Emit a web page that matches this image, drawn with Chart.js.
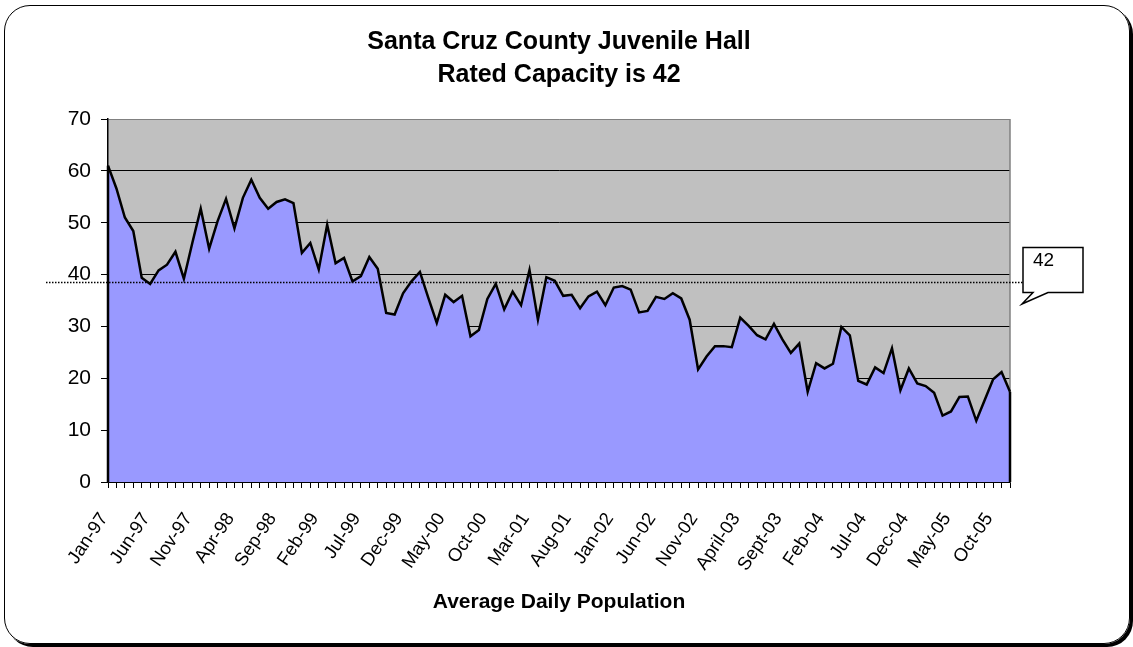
<!DOCTYPE html>
<html>
<head>
<meta charset="utf-8">
<title>Santa Cruz County Juvenile Hall</title>
<script src="https://cdn.jsdelivr.net/npm/chart.js@4.4.1/dist/chart.umd.min.js"></script>
<style>
  html, body { margin: 0; padding: 0; background: #fff; }
  #wrap { position: relative; width: 1133px; height: 647px; overflow: hidden; }
  #frame {
    position: absolute; left: 4px; top: 5px; width: 1124px; height: 637px;
    border: 1px solid #000; border-radius: 26px; box-shadow: 3px 3px 0 #000;
  }
  #juvenileChart { position: absolute; left: 0; top: 0; }
</style>
</head>
<body>
<div id="wrap">
  <div id="frame"></div>
  <canvas id="juvenileChart" width="1133" height="647"></canvas>
</div>
<script>
/**
 * Variable
 */
const FONT = "'Liberation Sans', Arial, sans-serif";
const TITLE_LINES = ['Santa Cruz County Juvenile Hall', 'Rated Capacity is 42'];
const X_TITLE = 'Average Daily Population';
const LABEL_STEP = 5;

// one label per month, Jan-97 .. Dec-05
const months = [
    'Jan-97', 'Feb-97', 'Mar-97', 'Apr-97', 'May-97', 'Jun-97', 'Jul-97', 'Aug-97', 'Sep-97', 'Oct-97', 'Nov-97', 'Dec-97',
    'Jan-98', 'Feb-98', 'Mar-98', 'Apr-98', 'May-98', 'Jun-98', 'Jul-98', 'Aug-98', 'Sep-98', 'Oct-98', 'Nov-98', 'Dec-98',
    'Jan-99', 'Feb-99', 'Mar-99', 'Apr-99', 'May-99', 'Jun-99', 'Jul-99', 'Aug-99', 'Sep-99', 'Oct-99', 'Nov-99', 'Dec-99',
    'Jan-00', 'Feb-00', 'Mar-00', 'Apr-00', 'May-00', 'Jun-00', 'Jul-00', 'Aug-00', 'Sep-00', 'Oct-00', 'Nov-00', 'Dec-00',
    'Jan-01', 'Feb-01', 'Mar-01', 'Apr-01', 'May-01', 'Jun-01', 'Jul-01', 'Aug-01', 'Sep-01', 'Oct-01', 'Nov-01', 'Dec-01',
    'Jan-02', 'Feb-02', 'Mar-02', 'Apr-02', 'May-02', 'Jun-02', 'Jul-02', 'Aug-02', 'Sep-02', 'Oct-02', 'Nov-02', 'Dec-02',
    'Jan-03', 'Feb-03', 'Mar-03', 'April-03', 'May-03', 'Jun-03', 'Jul-03', 'Aug-03', 'Sept-03', 'Oct-03', 'Nov-03', 'Dec-03',
    'Jan-04', 'Feb-04', 'Mar-04', 'Apr-04', 'May-04', 'Jun-04', 'Jul-04', 'Aug-04', 'Sep-04', 'Oct-04', 'Nov-04', 'Dec-04',
    'Jan-05', 'Feb-05', 'Mar-05', 'Apr-05', 'May-05', 'Jun-05', 'Jul-05', 'Aug-05', 'Sep-05', 'Oct-05', 'Nov-05', 'Dec-05',
];

// average daily population
const population = [
    61.0, 56.6, 51.0, 48.4, 39.4, 38.2, 40.8, 41.9, 44.4, 39.2, 46.1, 52.7,
    45.0, 50.3, 54.6, 48.9, 54.8, 58.3, 54.8, 52.7, 54.0, 54.5, 53.8, 44.2,
    46.1, 41.0, 49.6, 42.2, 43.2, 38.7, 39.7, 43.4, 41.1, 32.6, 32.3, 36.4,
    38.7, 40.5, 35.5, 30.7, 36.1, 34.7, 35.9, 28.1, 29.3, 35.3, 38.2, 33.3,
    36.7, 34.1, 40.9, 31.3, 39.5, 38.8, 35.9, 36.1, 33.5, 35.8, 36.7, 34.1,
    37.5, 37.8, 37.1, 32.7, 33.0, 35.7, 35.3, 36.4, 35.4, 31.3, 21.7, 24.2,
    26.2, 26.2, 26.0, 31.7, 30.1, 28.3, 27.5, 30.5, 27.5, 24.9, 26.7, 17.4,
    22.9, 21.9, 22.8, 29.9, 28.3, 19.5, 18.8, 22.1, 21.0, 25.8, 17.7, 21.9,
    19.0, 18.5, 17.2, 12.8, 13.6, 16.4, 16.5, 11.8, 15.8, 19.8, 21.2, 17.4,
];

// y axis
const Y_MIN = 0;
const Y_MAX = 70;
const Y_STEP = 10;

// the dotted marker line and its callout
const MARK_VALUE = 38.6;
const MARK_TEXT = '42';

const PLOT_BG = '#c0c0c0';
const AREA_COLOR = '#9999ff';

//////////////////////////////////////////////////////////////////

/**
 * Grey plot area, its border, the area's closing edges, marker line + callout
 */
const plotDecor = {
    id: 'plotDecor',
    beforeDraw(chart) {
        const {ctx, chartArea: a} = chart;
        ctx.save();
        ctx.fillStyle = PLOT_BG;
        ctx.fillRect(a.left, a.top, a.right - a.left, a.bottom - a.top);
        ctx.restore();
    },
    beforeDatasetsDraw(chart) {
        const {ctx, chartArea: a} = chart;
        ctx.save();
        ctx.strokeStyle = '#808080';
        ctx.lineWidth = 1.5;
        ctx.beginPath();
        ctx.moveTo(a.right, a.top);
        ctx.lineTo(a.right, a.bottom);
        ctx.stroke();
        ctx.restore();
    },
    afterDatasetsDraw(chart) {
        const {ctx, chartArea: a} = chart;
        const yScale = chart.scales.y;
        const pts = chart.getDatasetMeta(0).data;
        const base = yScale.getPixelForValue(0);

        // Excel outlines the whole area, so close both sides
        ctx.save();
        ctx.strokeStyle = '#000';
        ctx.lineWidth = 2.5;
        ctx.beginPath();
        ctx.moveTo(pts[0].x, pts[0].y);
        ctx.lineTo(pts[0].x, base);
        ctx.moveTo(pts[pts.length - 1].x, pts[pts.length - 1].y);
        ctx.lineTo(pts[pts.length - 1].x, base);
        ctx.stroke();

        // dotted marker line
        const my = Math.round(yScale.getPixelForValue(MARK_VALUE)) + 0.5;
        ctx.lineWidth = 1.3;
        ctx.setLineDash([1.5, 1.5]);
        ctx.beginPath();
        ctx.moveTo(a.left - 62, my);
        ctx.lineTo(a.right + 13, my);
        ctx.stroke();
        ctx.setLineDash([]);

        // callout box with its tail
        const bx = a.right + 13;
        const bw = 60;
        const top = my - 35;
        const bottom = my + 10;
        ctx.fillStyle = '#fff';
        ctx.lineWidth = 1.5;
        ctx.beginPath();
        ctx.moveTo(bx, top);
        ctx.lineTo(bx + bw, top);
        ctx.lineTo(bx + bw, bottom);
        ctx.lineTo(bx + 25, bottom);
        ctx.lineTo(bx - 1, my + 21.5);
        ctx.lineTo(bx + 10, bottom);
        ctx.lineTo(bx, bottom);
        ctx.closePath();
        ctx.fill();
        ctx.stroke();

        ctx.fillStyle = '#000';
        ctx.font = '19px ' + FONT;
        ctx.textAlign = 'left';
        ctx.textBaseline = 'middle';
        ctx.fillText(MARK_TEXT, bx + 10, top + 13);
        ctx.restore();
    }
};

/**
 * Load area chart
 */
function loadAreaChart(id) {
    const data = {
        labels: months,
        datasets: [{
            label: X_TITLE,
            data: population,
            fill: 'origin',
            backgroundColor: AREA_COLOR,
            borderColor: '#000',
            borderWidth: 2.5,
            borderJoinStyle: 'miter',
            pointRadius: 0,
            tension: 0,
        }]
    };
    const config = {
        type: 'line',
        data: data,
        plugins: [plotDecor],
        options: {
            responsive: false,
            animation: false,
            layout: {
                padding: {left: 0, right: 123, top: 0, bottom: 0}
            },
            plugins: {
                legend: {display: false},
                tooltip: {enabled: false},
                title: {
                    display: true,
                    fullSize: false,
                    text: TITLE_LINES,
                    color: '#000',
                    font: {family: FONT, size: 25, weight: 'bold', lineHeight: 1.32},
                    padding: {top: 26, bottom: 27}
                }
            },
            scales: {
                x: {
                    offset: false,
                    grid: {
                        drawOnChartArea: false,
                        tickLength: 6,
                        tickColor: '#000'
                    },
                    border: {color: '#000', width: 1.5},
                    ticks: {
                        autoSkip: false,
                        minRotation: 56,
                        maxRotation: 56,
                        padding: 21,
                        labelOffset: -4,
                        color: '#000',
                        font: {family: FONT, size: 18.5, lineHeight: 1.2},
                        callback: function (value, index) {
                            return index % LABEL_STEP === 0 ? this.getLabelForValue(value) : '';
                        }
                    },
                    title: {
                        display: true,
                        text: X_TITLE,
                        color: '#000',
                        font: {family: FONT, size: 21, weight: 'bold', lineHeight: 1.15},
                        padding: {top: 0, bottom: 33}
                    },
                    afterFit: function (scale) {
                        scale.height = 165;
                    }
                },
                y: {
                    min: Y_MIN,
                    max: Y_MAX,
                    grid: {
                        color: function (ctx) {
                            return ctx.tick && ctx.tick.value === Y_MAX ? '#808080' : '#000';
                        },
                        tickColor: '#000',
                        tickLength: 7,
                        lineWidth: 1
                    },
                    border: {color: '#000', width: 1.5},
                    ticks: {
                        stepSize: Y_STEP,
                        padding: 10,
                        color: '#000',
                        font: {family: FONT, size: 21}
                    },
                    afterFit: function (scale) {
                        scale.width = 108;
                    }
                }
            }
        }
    };
    const ctx = document.getElementById(id);
    new Chart(ctx, config);
}

/**
 * Document Ready
 */
loadAreaChart('juvenileChart');
</script>
</body>
</html>
